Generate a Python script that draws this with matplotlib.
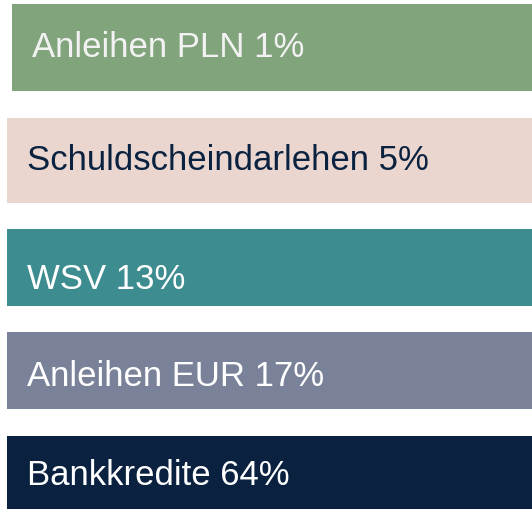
import matplotlib
matplotlib.use("Agg")
import matplotlib.pyplot as plt
from matplotlib import font_manager

categories = ["Anleihen PLN", "Schuldscheindarlehen", "WSV", "Anleihen EUR", "Bankkredite"]
shares = [1, 5, 13, 17, 64]
colors = ["#82A47D", "#EBD6CF", "#3D8C90", "#7A8299", "#0A2240"]
text_colors = ["#F2F2F2", "#0A2240", "#FFFFFF", "#FFFFFF", "#FFFFFF"]

# layout in pixel units (top, bottom, left)
tops = [4, 118, 229, 332, 436]
bottoms = [91, 203, 306, 409, 512]
lefts = [12, 7, 7, 7, 7]
text_x = [32, 27, 27, 27, 27]
baselines = [57, 170, 289, 386, 485]

names = {f.name for f in font_manager.fontManager.ttflist}
family = "Liberation Sans Narrow" if "Liberation Sans Narrow" in names else "Liberation Sans"
fsize = 30 if family == "Liberation Sans Narrow" else 25

W, H = 532, 509
fig = plt.figure(figsize=(W / 100, H / 100), dpi=100)
ax = fig.add_axes([0, 0, 1, 1])
ax.set_xlim(0, W)
ax.set_ylim(H, 0)
ax.axis("off")

for cat, s, c, tc, t, b, l, tx, bl in zip(categories, shares, colors, text_colors,
                                          tops, bottoms, lefts, text_x, baselines):
    ax.barh((t + b) / 2, W - l, height=b - t, left=l, color=c, edgecolor="none")
    ax.text(tx, bl, f"{cat} {s}%", color=tc, fontsize=fsize, family=family,
            ha="left", va="baseline")

fig.savefig("out.png", dpi=100)
